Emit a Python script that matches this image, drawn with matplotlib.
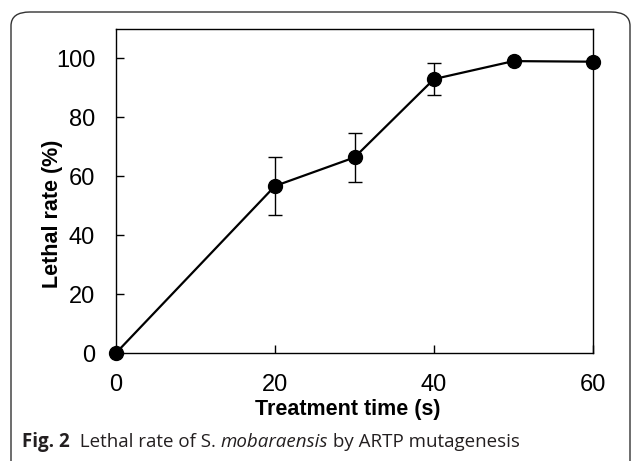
import matplotlib
matplotlib.use('Agg')
import matplotlib.pyplot as plt
from matplotlib.patches import FancyBboxPatch

time_s = [0, 20, 30, 40, 50, 60]
lethal = [0, 56.7, 66.4, 93.0, 99.1, 98.9]
err = [0, 10.0, 8.2, 5.3, 0, 0]
xticks = [0, 20, 40, 60]
yticks = [0, 20, 40, 60, 80, 100]

plt.rcParams['font.family'] = ['Liberation Sans', 'DejaVu Sans']

fig = plt.figure(figsize=(6.32, 4.61), dpi=100)

# rounded frame around figure + caption
frame = FancyBboxPatch((11 / 632, -0.1), 619 / 632, 1 - 12 / 461 + 0.1,
                       boxstyle='round,pad=0,rounding_size=0.03',
                       transform=fig.transFigure, fill=False,
                       edgecolor='#333333', linewidth=1.0)
fig.patches.append(frame)

ax = fig.add_axes([116 / 632, 1 - 353 / 461, (593 - 116) / 632, (353 - 29) / 461])
ax.errorbar(time_s, lethal, yerr=err, color='black', linewidth=1.6,
            marker='o', markersize=10, ecolor='black', elinewidth=1.0,
            capsize=5, capthick=1.0, clip_on=False, zorder=3)
ax.set_xlim(0, 60)
ax.set_ylim(0, 110)
ax.set_xticks(xticks)
ax.set_yticks(yticks)
ax.tick_params(direction='in', length=6, width=1, labelsize=17, pad=15)
for s in ax.spines.values():
    s.set_linewidth(1.0)
ax.set_xlabel('Treatment time (s)', fontsize=15.5, fontweight='bold')
ax.set_ylabel('Lethal rate (%)', fontsize=15.5, fontweight='bold')
ax.xaxis.set_label_coords(0.485, -0.142)
ax.yaxis.set_label_coords(-0.134, 0.43)
ax.yaxis.label.set_va('center')

# caption, built from pieces
cap_font = ['Open Sans', 'DejaVu Sans']
pieces = [('Fig. 2', 'bold', 'normal'), ('  Lethal rate of S. ', 'normal', 'normal'),
          ('mobaraensis', 'normal', 'italic'), (' by ARTP mutagenesis', 'normal', 'normal')]
fig.canvas.draw()
renderer = fig.canvas.get_renderer()
x = 22
for txt, w, st in pieces:
    t = fig.text(x / 632, 1 - 442 / 461, txt, fontsize=13.5, fontweight=w, style=st,
                 family=cap_font, va='center', ha='left', color='#231f20')
    bb = t.get_window_extent(renderer)
    x += bb.width

fig.savefig('out.png', dpi=100)
